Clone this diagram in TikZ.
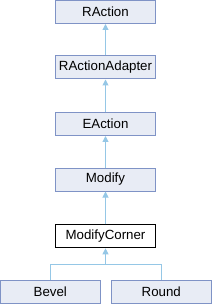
\documentclass[tikz,border=0pt]{standalone}
\usepackage{fontspec}
\setmainfont{Liberation Sans}
\usetikzlibrary{arrows.meta}
\definecolor{boxfill}{HTML}{E8ECF5}
\definecolor{boxdraw}{HTML}{7F93C6}
\definecolor{edgecol}{HTML}{95C7E6}
\begin{document}
\begin{tikzpicture}[x=1pt,y=-1pt,
  cls/.style={draw=boxdraw,fill=boxfill,line width=1pt,minimum width=100pt,minimum height=23pt,inner sep=0pt,font=\fontsize{13.3}{15}\selectfont},
  cur/.style={cls,draw=black,fill=white},
  inh/.style={draw=edgecol,line width=1pt,-{Triangle[length=6pt,width=6pt]}}]
\useasboundingbox (0,0) rectangle (212,304);
\node[cls] (ra) at (105.5,12) {RAction};
\node[cls] (raa) at (105.5,67.5) {RActionAdapter};
\node[cls] (ea) at (105.5,124) {EAction};
\node[cls] (mod) at (105.5,179.5) {Modify};
\node[cur] (mc) at (105.5,236.3) {ModifyCorner};
\node[cls] (bev) at (50.3,292) {Bevel};
\node[cls] (rnd) at (161.3,292) {Round};
\coordinate (br) at (105.5,264.3);
\draw[inh] (raa) -- (ra);
\draw[inh] (ea) -- (raa);
\draw[inh] (mod) -- (ea);
\draw[inh] (mc) -- (mod);
\draw[draw=edgecol,line width=1pt] (bev.north) |- (br);
\draw[draw=edgecol,line width=1pt] (rnd.north) |- (br);
\draw[inh] (br) -- (mc.south);
\end{tikzpicture}
\end{document}
